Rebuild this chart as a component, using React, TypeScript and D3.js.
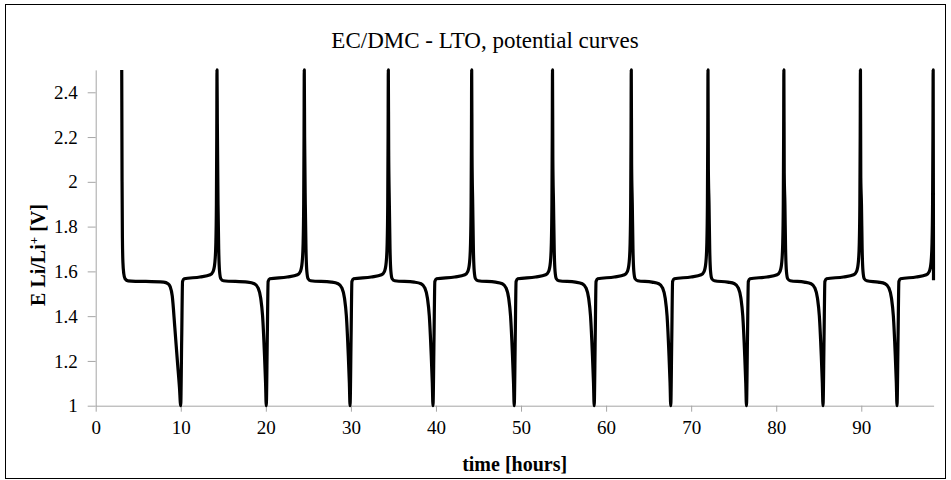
import * as d3 from "d3";
import React, { useRef, useEffect } from "react";

// time [h], potential [V], one array per cycle
const cycle01 = [
  [3.06, 2.5], [3.1, 2.0], [3.14, 1.75], [3.2, 1.64], [3.3, 1.59], [3.45, 1.567], [3.8, 1.558],
  [7.99, 1.552], [8.5, 1.545], [8.75, 1.532], [9.0, 1.49], [9.3, 1.35], [9.6, 1.2], [9.85, 1.08], [9.99, 1.0],
  [10.11, 1.3], [10.21, 1.555], [10.39, 1.567], [12.26, 1.575], [13.46, 1.585], [13.81, 1.6],
  [14.01, 1.64], [14.12, 1.72], [14.19, 1.9], [14.23, 2.2], [14.26, 2.5],
];
const cycle02 = [
  [14.3, 2.26], [14.38, 1.9], [14.46, 1.7], [14.56, 1.6], [14.71, 1.567], [15.01, 1.558],
  [17.85, 1.552], [18.65, 1.545], [19.1, 1.525], [19.4, 1.48], [19.62, 1.4], [19.85, 1.22], [19.97, 1.1], [20.05, 1.0],
  [20.17, 1.3], [20.27, 1.555], [20.45, 1.567], [22.52, 1.575], [23.72, 1.585], [24.07, 1.6],
  [24.27, 1.64], [24.38, 1.72], [24.45, 1.9], [24.49, 2.2], [24.52, 2.5],
];
const cycle03 = [
  [24.56, 2.2], [24.64, 1.9], [24.72, 1.7], [24.82, 1.6], [24.97, 1.567], [25.27, 1.558],
  [27.7, 1.552], [28.5, 1.545], [28.95, 1.525], [29.25, 1.48], [29.47, 1.4], [29.7, 1.22], [29.82, 1.1], [29.9, 1.0],
  [30.02, 1.3], [30.12, 1.555], [30.3, 1.567], [32.4, 1.575], [33.6, 1.585], [33.95, 1.6],
  [34.15, 1.64], [34.26, 1.72], [34.33, 1.9], [34.37, 2.2], [34.4, 2.5],
];
const cycle04 = [
  [34.44, 2.15], [34.52, 1.9], [34.6, 1.7], [34.7, 1.6], [34.85, 1.567], [35.15, 1.558],
  [37.45, 1.552], [38.25, 1.545], [38.7, 1.525], [39.0, 1.48], [39.22, 1.4], [39.45, 1.22], [39.57, 1.1], [39.65, 1.0],
  [39.77, 1.3], [39.87, 1.555], [40.05, 1.567], [42.2, 1.575], [43.4, 1.585], [43.75, 1.6],
  [43.95, 1.64], [44.06, 1.72], [44.13, 1.9], [44.17, 2.2], [44.2, 2.5],
];
const cycle05 = [
  [44.24, 2.12], [44.32, 1.9], [44.4, 1.7], [44.5, 1.6], [44.65, 1.567], [44.95, 1.558],
  [47.0, 1.552], [47.8, 1.545], [48.25, 1.525], [48.55, 1.48], [48.77, 1.4], [49.0, 1.22], [49.12, 1.1], [49.2, 1.0],
  [49.32, 1.3], [49.42, 1.555], [49.6, 1.567], [51.7, 1.575], [52.9, 1.585], [53.25, 1.6],
  [53.45, 1.64], [53.56, 1.72], [53.63, 1.9], [53.67, 2.2], [53.7, 2.5],
];
const cycle06 = [
  [53.74, 2.1], [53.82, 1.9], [53.9, 1.7], [54.0, 1.6], [54.15, 1.567], [54.45, 1.558],
  [56.4, 1.552], [57.2, 1.545], [57.65, 1.525], [57.95, 1.48], [58.17, 1.4], [58.4, 1.22], [58.52, 1.1], [58.6, 1.0],
  [58.72, 1.3], [58.82, 1.555], [59.0, 1.567], [60.96, 1.575], [62.16, 1.585], [62.51, 1.6],
  [62.71, 1.64], [62.82, 1.72], [62.89, 1.9], [62.93, 2.2], [62.96, 2.5],
];
const cycle07 = [
  [63.0, 2.08], [63.08, 1.9], [63.16, 1.7], [63.26, 1.6], [63.41, 1.567], [63.71, 1.558],
  [65.4, 1.552], [66.2, 1.545], [66.65, 1.525], [66.95, 1.48], [67.17, 1.4], [67.4, 1.22], [67.52, 1.1], [67.6, 1.0],
  [67.72, 1.3], [67.82, 1.555], [68.0, 1.567], [69.98, 1.575], [71.18, 1.585], [71.53, 1.6],
  [71.73, 1.64], [71.84, 1.72], [71.91, 1.9], [71.95, 2.2], [71.98, 2.5],
];
const cycle08 = [
  [72.02, 2.06], [72.1, 1.9], [72.18, 1.7], [72.28, 1.6], [72.43, 1.567], [72.73, 1.558],
  [74.3, 1.552], [75.1, 1.545], [75.55, 1.525], [75.85, 1.48], [76.07, 1.4], [76.3, 1.22], [76.42, 1.1], [76.5, 1.0],
  [76.62, 1.3], [76.72, 1.555], [76.9, 1.567], [78.9, 1.575], [80.1, 1.585], [80.45, 1.6],
  [80.65, 1.64], [80.76, 1.72], [80.83, 1.9], [80.87, 2.2], [80.9, 2.5],
];
const cycle09 = [
  [80.94, 2.04], [81.02, 1.9], [81.1, 1.7], [81.2, 1.6], [81.35, 1.567], [81.65, 1.558],
  [83.3, 1.552], [84.1, 1.545], [84.55, 1.525], [84.85, 1.48], [85.07, 1.4], [85.3, 1.22], [85.42, 1.1], [85.5, 1.0],
  [85.62, 1.3], [85.72, 1.555], [85.9, 1.567], [87.9, 1.575], [89.1, 1.585], [89.45, 1.6],
  [89.65, 1.64], [89.76, 1.72], [89.83, 1.9], [89.87, 2.2], [89.9, 2.5],
];
const cycle10 = [
  [89.94, 2.02], [90.02, 1.9], [90.1, 1.7], [90.2, 1.6], [90.35, 1.567], [90.65, 1.558],
  [92.0, 1.552], [92.8, 1.545], [93.25, 1.525], [93.55, 1.48], [93.77, 1.4], [94.0, 1.22], [94.12, 1.1], [94.2, 1.0],
  [94.32, 1.3], [94.42, 1.555], [94.6, 1.567], [96.45, 1.575], [97.65, 1.585], [98.0, 1.6],
  [98.2, 1.64], [98.31, 1.72], [98.38, 1.9], [98.42, 2.2], [98.45, 2.5], [98.49, 1.56],
];

const xTicks = [0, 10, 20, 30, 40, 50, 60, 70, 80, 90];
const yTicks = [1, 1.2, 1.4, 1.6, 1.8, 2, 2.2, 2.4];

export default function App() {
  const svgRef = useRef(null);

  useEffect(() => {
    const width = 951;
    const height = 480;
    const plot = { left: 95.7, right: 933.6, top: 69.9, bottom: 405.7 };
    const font = "Liberation Serif";

    const data = [
      ...cycle01, ...cycle02, ...cycle03, ...cycle04, ...cycle05,
      ...cycle06, ...cycle07, ...cycle08, ...cycle09, ...cycle10,
    ];

    const xScale = d3.scaleLinear().domain([0, 98.5]).range([plot.left, plot.right]);
    const yScale = d3.scaleLinear().domain([1, 2.5]).range([plot.bottom, plot.top]);

    const svg = d3.select(svgRef.current).attr("width", width).attr("height", height);
    svg.selectAll("*").remove();

    svg
      .append("rect")
      .attr("x", 5.5)
      .attr("y", 4.5)
      .attr("width", 940)
      .attr("height", 474)
      .attr("fill", "white")
      .attr("stroke", "#000")
      .attr("stroke-width", 1);

    svg
      .append("text")
      .attr("x", 485)
      .attr("y", 48)
      .attr("text-anchor", "middle")
      .attr("font-family", font)
      .attr("font-size", 23)
      .text("EC/DMC - LTO, potential curves");

    const xAxis = svg
      .append("g")
      .attr("transform", `translate(0,${plot.bottom})`)
      .call(d3.axisBottom(xScale).tickValues(xTicks).tickSize(6).tickSizeOuter(0).tickPadding(9));
    const yAxis = svg
      .append("g")
      .attr("transform", `translate(${plot.left},0)`)
      .call(
        d3.axisLeft(yScale).tickValues(yTicks).tickFormat(d3.format("")).tickSize(8).tickSizeOuter(0).tickPadding(10)
      );

    [xAxis, yAxis].forEach((g) => {
      g.attr("font-family", font).attr("font-size", 19);
      g.selectAll("path, line").attr("stroke", "#a6a6a6").attr("stroke-width", 1);
      g.selectAll("text").attr("fill", "#000");
    });

    svg
      .append("path")
      .datum(data)
      .attr("fill", "none")
      .attr("stroke", "#000")
      .attr("stroke-width", 3.2)
      .attr("stroke-linejoin", "round")
      .attr(
        "d",
        d3
          .line()
          .x((d) => xScale(d[0]))
          .y((d) => yScale(d[1]))
          .curve(d3.curveMonotoneX)
      );

    svg
      .append("text")
      .attr("x", (plot.left + plot.right) / 2)
      .attr("y", 471)
      .attr("text-anchor", "middle")
      .attr("font-family", font)
      .attr("font-size", 20)
      .attr("font-weight", "bold")
      .text("time [hours]");

    const yLabel = svg
      .append("text")
      .attr("transform", `translate(45,255) rotate(-90)`)
      .attr("text-anchor", "middle")
      .attr("font-family", font)
      .attr("font-size", 20)
      .attr("font-weight", "bold");
    yLabel.append("tspan").text("E Li/Li");
    yLabel.append("tspan").attr("dy", -7).attr("font-size", 13).text("+");
    yLabel.append("tspan").attr("dy", 7).text(" [V]");
  }, []);

  return (
    <>
      <style>{`body{margin:0}`}</style>
      <svg ref={svgRef}></svg>
    </>
  );
}
